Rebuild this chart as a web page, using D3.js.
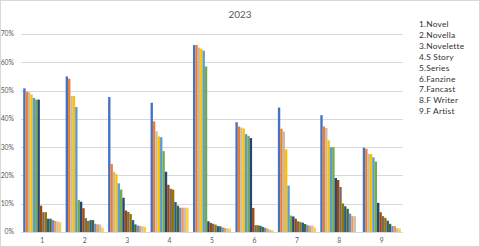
<!DOCTYPE html>
<html>
<head>
<meta charset="utf-8">
<script src="https://cdn.jsdelivr.net/npm/d3@7"></script>
<style>
  body { margin: 0; background: #fff; }
  svg { display: block; font-family: Lato, "Liberation Sans", sans-serif; }
</style>
</head>
<body>
<svg id="chart"></svg>
<script>
  // categories 1..9 and their legend names
  const categories = ["1", "2", "3", "4", "5", "6", "7", "8", "9"];
  const legendNames = [
    "1.Novel", "2.Novella", "3.Novelette", "4.S Story", "5.Series",
    "6.Fanzine", "7.Fancast", "8.F Writer", "9.F Artist",
  ];
  const yTicks = [0, 0.1, 0.2, 0.3, 0.4, 0.5, 0.6, 0.7];

  // percent of ballots, ranked 1..16 inside each category
  const cat1 = [50.8, 49.6, 49.4, 48.6, 47.4, 46.8, 46.8, 9.3, 7.0, 7.0, 4.7, 4.7, 4.2, 3.9, 3.7, 3.5];
  const cat2 = [55.0, 54.2, 48.1, 48.1, 44.2, 11.3, 10.7, 8.4, 4.9, 3.9, 4.2, 4.2, 2.9, 2.7, 2.7, 1.5];
  const cat3 = [47.7, 24.0, 21.3, 20.5, 17.2, 15.0, 12.1, 7.6, 7.1, 6.4, 4.2, 2.7, 2.3, 2.1, 2.0, 1.8];
  const cat4 = [45.7, 39.1, 35.6, 33.8, 33.5, 28.6, 21.3, 16.7, 15.3, 15.0, 10.6, 9.3, 8.6, 8.6, 8.6, 8.6];
  const cat5 = [66.1, 66.1, 65.2, 64.8, 64.1, 58.5, 3.8, 3.2, 2.9, 2.6, 2.1, 2.0, 1.6, 1.4, 1.3, 1.2];
  const cat6 = [38.8, 37.3, 36.9, 36.6, 34.6, 34.0, 33.2, 8.5, 2.4, 2.4, 2.2, 1.8, 1.5, 1.2, 0.8, 0.6];
  const cat7 = [44.0, 36.5, 35.5, 29.2, 16.4, 5.8, 5.5, 4.7, 3.8, 3.5, 3.3, 2.8, 2.4, 2.2, 2.3, 1.6];
  const cat8 = [41.3, 37.3, 36.8, 32.4, 30.0, 30.0, 19.1, 18.4, 15.9, 10.1, 9.1, 8.2, 6.5, 5.6, 5.6, 0];
  const cat9 = [29.8, 29.4, 27.6, 27.6, 26.4, 24.9, 10.3, 7.0, 5.6, 5.0, 4.0, 2.9, 2.1, 2.1, 1.4, 1.2];

  const values = [cat1, cat2, cat3, cat4, cat5, cat6, cat7, cat8, cat9];

  const colors = [
    "#4472C4", "#ED7D31", "#C9BBA0", "#FFC000", "#5B9BD5", "#70AD47",
    "#264478", "#9E480E", "#7A6A5A", "#997300", "#255E91", "#43682B",
    "#698ED0", "#F1975A", "#C9C0B7", "#FFCD33",
  ];
  const ranks = d3.range(16);

  const size = { width: 480, height: 247 };
  const margin = { top: 34, bottom: 15, left: 21, right: 77 };

  const svg = d3.select("#chart")
    .attr("width", size.width)
    .attr("height", size.height);

  // outer frame
  svg.append("rect")
    .attr("x", 0.5).attr("y", 0.5)
    .attr("width", size.width - 1).attr("height", size.height - 1)
    .attr("fill", "#fff")
    .attr("stroke", "#d9d9d9");

  const y = d3.scaleLinear()
    .domain([0, 0.7])
    .range([size.height - margin.bottom, margin.top]);

  const x0 = d3.scaleBand()
    .domain(categories)
    .range([margin.left, size.width - margin.right])
    .paddingInner(0.104)
    .paddingOuter(0.052);

  const x1 = d3.scaleBand()
    .domain(ranks)
    .range([0, x0.bandwidth()]);

  // gridlines + y labels
  const grid = svg.append("g");
  yTicks.forEach((t) => {
    grid.append("line")
      .attr("x1", margin.left)
      .attr("x2", size.width - margin.right)
      .attr("y1", Math.round(y(t)) + 0.5)
      .attr("y2", Math.round(y(t)) + 0.5)
      .attr("stroke", "#d9d9d9")
      .attr("stroke-width", 1);
    grid.append("text")
      .attr("x", 14)
      .attr("y", y(t))
      .attr("dy", "0.35em")
      .attr("text-anchor", "end")
      .attr("fill", "#595959")
      .style("font-size", "6.8px")
      .text(d3.format(".0%")(t));
  });

  // bars
  const groups = svg.append("g")
    .selectAll("g")
    .data(values)
    .join("g")
    .attr("transform", (d, i) => `translate(${x0(categories[i])},0)`);

  groups.selectAll("rect")
    .data((d) => d.map((v, j) => ({ v: v / 100, j })))
    .join("rect")
    .attr("x", (d) => x1(d.j))
    .attr("width", x1.bandwidth())
    .attr("y", (d) => y(d.v))
    .attr("height", (d) => y(0) - y(d.v))
    .attr("fill", (d) => colors[d.j]);

  // x labels
  svg.append("g")
    .selectAll("text")
    .data(categories)
    .join("text")
    .attr("x", (d) => x0(d) + x0.bandwidth() / 2)
    .attr("y", size.height - 4)
    .attr("text-anchor", "middle")
    .attr("fill", "#595959")
    .style("font-size", "6.8px")
    .text((d) => d);

  // title
  svg.append("text")
    .attr("x", 240)
    .attr("y", 18)
    .attr("text-anchor", "middle")
    .attr("fill", "#595959")
    .style("font-size", "10px")
    .text("2023");

  // legend (names only)
  svg.append("g")
    .selectAll("text")
    .data(legendNames)
    .join("text")
    .attr("x", 419)
    .attr("y", (d, i) => 27 + i * 10.9)
    .attr("fill", "#333")
    .style("font-size", "8.4px")
    .style("letter-spacing", "0.2px")
    .text((d) => d);
</script>
</body>
</html>
